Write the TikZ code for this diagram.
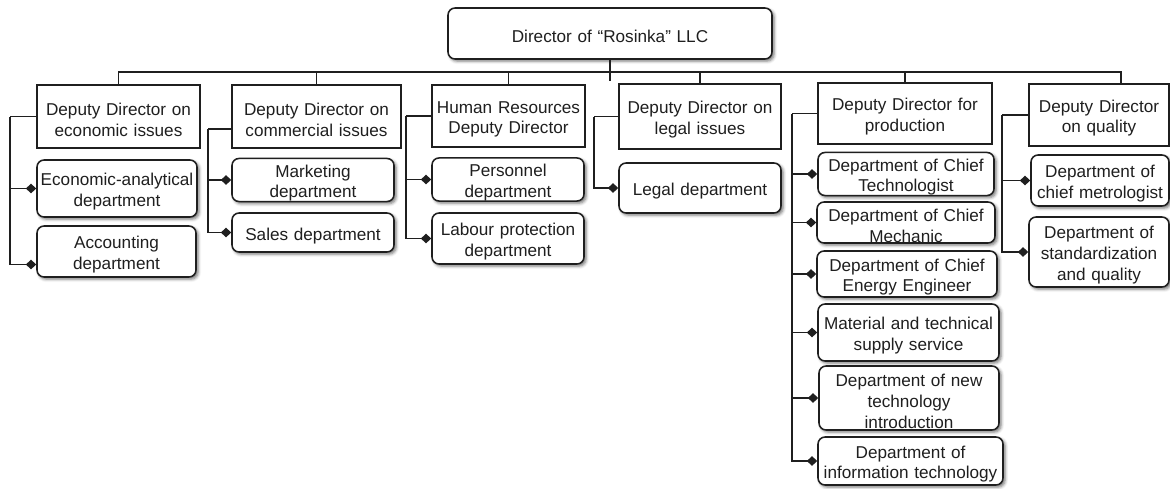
\documentclass[tikz,border=0pt]{standalone}
\usepackage{fontspec}
\setmainfont{Liberation Sans}
\usetikzlibrary{arrows.meta, positioning, calc, shadows.blur}
\definecolor{inkdark}{HTML}{1F1F1F}
\tikzset{
  txt/.style={font=\fontsize{12.2}{14.9}\selectfont, text=inkdark, align=center, inner sep=0pt,
              execute at begin node={\rule{0pt}{13.2pt}}},
  dims/.style 2 args={text width=#1*0.025cm, minimum width=#1*0.025cm, minimum height=#2*0.025cm},
  deputy/.style={txt, draw=inkdark, line width=1.1pt, fill=white},
  dept/.style={txt, draw=inkdark, line width=1.1pt, fill=white, rounded corners=5pt,
               blur shadow={shadow xshift=1.5pt, shadow yshift=-1.5pt, shadow blur steps=4, shadow opacity=55}},
  link/.style={draw=inkdark, line width=1.1pt},
  branch/.style={link, -{Diamond[length=2.6mm, width=2.4mm]}},
}

\begin{document}
\begin{tikzpicture}[x=0.025cm, y=-0.025cm]
  \useasboundingbox (0,0) rectangle (1170,488);
  % head
  \node[dept, dims={324}{51}] (dir) at (610,33.5) {Director of “Rosinka” LLC};
  % deputies
  \node[deputy, dims={163}{63}] (ecoDep) at (118.5,116.5) {Deputy Director on\\economic issues};
  \node[deputy, dims={169}{63}] (comDep) at (316.5,116.5) {Deputy Director on\\commercial issues};
  \node[deputy, dims={153}{62}] (hrDep) at (508.5,116) {Human Resources\\Deputy Director};
  \node[deputy, dims={162}{65}] (legDep) at (700,116.5) {Deputy Director on\\legal issues};
  \node[deputy, dims={174}{61}] (prodDep) at (905,113.5) {Deputy Director for\\production};
  \node[deputy, dims={140}{62}] (qualDep) at (1099,115) {Deputy Director\\on quality};
  % departments
  \node[dept, dims={160}{57}] (ecoA) at (117,188.5) {Economic-analytical\\department};
  \node[dept, dims={159}{51}] (accnt) at (116.5,251.5) {Accounting\\department};
  \node[dept, dims={162}{40}] (mkt) at (313,180) {Marketing\\department};
  \node[dept, dims={162}{39}] (sales) at (313,232.5) {Sales department};
  \node[dept, dims={152}{41}] (pers) at (508,179.5) {Personnel\\department};
  \node[dept, dims={152}{51}] (labour) at (508,238.5) {Labour protection\\department};
  \node[dept, dims={162}{50}] (legalD) at (700,188) {Legal department};
  \node[dept, dims={176}{40}] (tech) at (906,174) {Department of Chief\\Technologist};
  \node[dept, dims={178}{41}] (mech) at (906,222.5) {Department of Chief\\Mechanic};
  \node[dept, dims={180}{46}] (energy) at (907,274) {Department of Chief\\Energy Engineer};
  \node[dept, dims={181}{57}] (supply) at (908.5,332.5) {Material and technical\\supply service};
  \node[dept, dims={180}{64}] (newtech) at (909,398) {Department of new\\technology\\introduction};
  \node[dept, dims={185}{48}] (infotech) at (910.5,461) {Department of\\information technology};
  \node[dept, dims={138}{51}] (metro) at (1100,180.5) {Department of\\chief metrologist};
  \node[dept, dims={140}{70}] (stand) at (1099,252) {Department of\\standardization\\and quality};
  % top bus
  \coordinate (bus) at (610,72);
  \draw[link] (dir.south) -- ++(0,21);
  \draw[link] (ecoDep.north) |- (bus);
  \draw[link] (comDep.north) |- (bus);
  \draw[link] (hrDep.north) |- (bus);
  \draw[link] (legDep.north) |- (bus);
  \draw[link] (prodDep.north) |- (bus);
  \draw[link] ($(qualDep.north)+(22,0)$) |- (bus);
  % side spines
  \draw[link] (ecoDep.west) -- ++(-26,0) coordinate (ecoSp);
  \draw[branch] (ecoSp) |- (ecoA.west);
  \draw[branch] (ecoSp) |- ($(accnt.west)+(0,13)$);
  \draw[link] ($(comDep.west)+(0,12.5)$) -- ++(-23,0) coordinate (comSp);
  \draw[branch] (comSp) |- (mkt.west);
  \draw[branch] (comSp) |- (sales.west);
  \draw[link] (hrDep.west) -- ++(-25,0) coordinate (hrSp);
  \draw[branch] (hrSp) |- (pers.west);
  \draw[branch] (hrSp) |- (labour.west);
  \draw[link] (legDep.west) -- ++(-24,0) coordinate (legSp);
  \draw[branch] (legSp) |- (legalD.west);
  \draw[link] (prodDep.west) -- ++(-25,0) coordinate (prodSp);
  \draw[branch] (prodSp) |- (tech.west);
  \draw[branch] (prodSp) |- (mech.west);
  \draw[branch] (prodSp) |- (energy.west);
  \draw[branch] (prodSp) |- (supply.west);
  \draw[branch] (prodSp) |- (newtech.west);
  \draw[branch] (prodSp) |- (infotech.west);
  \draw[link] (qualDep.west) -- ++(-26,0) coordinate (qualSp);
  \draw[branch] (qualSp) |- (metro.west);
  \draw[branch] (qualSp) |- (stand.west);
\end{tikzpicture}
\end{document}
